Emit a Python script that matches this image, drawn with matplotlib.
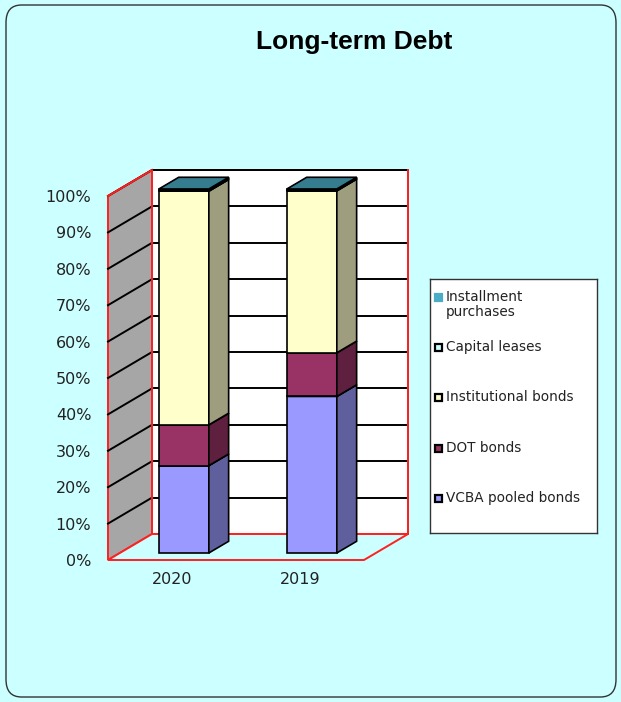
import matplotlib
matplotlib.use("Agg")
from matplotlib import pyplot as plt
from matplotlib.patches import Polygon, Rectangle, FancyBboxPatch
from matplotlib.colors import to_rgb

# data (percent of long-term debt)
years = ["2020", "2019"]
series = ["VCBA pooled bonds", "DOT bonds", "Institutional bonds",
          "Capital leases", "Installment purchases"]
vcba = [24.0, 43.0]
dot = [11.2, 12.0]
institutional = [64.2, 44.5]
capital = [0.4, 0.3]
installment = [0.2, 0.2]
colors = ["#9999FF", "#993366", "#FFFFCC", "#CCFFFF", "#4BACC6"]
ticks = [0, 10, 20, 30, 40, 50, 60, 70, 80, 90, 100]


def shade(c, k):
    r, g, b = to_rgb(c)
    return (r * k, g * k, b * k)


def main():
    fig = plt.figure(figsize=(6.21, 7.02), dpi=100)
    fig.patch.set_facecolor("#CCFFFF")
    W, H = 621, 702
    fig.patches.append(FancyBboxPatch((6 / W, 5 / H), 610 / W, 692 / H,
                                      boxstyle="round,pad=0,rounding_size=0.025",
                                      transform=fig.transFigure, facecolor="#CCFFFF",
                                      edgecolor="#333333", lw=1.0, zorder=-5))

    fig.text(354 / W, 1 - 42 / H, "Long-term Debt", ha="center", va="center",
             fontsize=19, fontweight="bold", family="Liberation Sans")

    # depth of the 3d box in data units
    DX, DY = 0.344, 7.14
    x0, x1 = -0.5, 1.5
    ax = fig.add_axes([108 / W, 1 - 560 / H, 300 / W, 390 / H])
    ax.set_xlim(x0, x1 + DX)
    ax.set_ylim(0, 100 + DY)
    ax.patch.set_visible(False)
    for s in ax.spines.values():
        s.set_visible(False)

    red = "#FF2020"
    # walls and floor
    ax.add_patch(Polygon([(x0 + DX, DY), (x1 + DX, DY), (x1 + DX, 100 + DY), (x0 + DX, 100 + DY)],
                         facecolor="white", edgecolor=red, lw=1.4, clip_on=False, zorder=1))
    ax.add_patch(Polygon([(x0, 0), (x0 + DX, DY), (x0 + DX, 100 + DY), (x0, 100)],
                         facecolor="#A6A6A6", edgecolor=red, lw=1.4, clip_on=False, zorder=1))
    ax.add_patch(Polygon([(x0, 0), (x1, 0), (x1 + DX, DY), (x0 + DX, DY)],
                         facecolor="#CCFFFF", edgecolor=red, lw=1.4, clip_on=False, zorder=1))
    for p in ticks[1:]:
        ax.plot([x0 + DX, x1 + DX], [p + DY, p + DY], color="black", lw=1.4, zorder=2, clip_on=False)
        ax.plot([x0, x0 + DX], [p, p + DY], color="black", lw=1.4, zorder=2, clip_on=False)
    ax.plot([x0, x0 + DX, x0 + DX], [100, 100 + DY, DY], color=red, lw=1.4, zorder=2, clip_on=False)
    ax.plot([x1 + DX, x1 + DX], [DY, 100 + DY], color=red, lw=1.4, zorder=2, clip_on=False)

    # stacked 3d bars
    w = 0.39
    f0, f1 = 0.27, 0.72
    stacks = [vcba, dot, institutional, capital, installment]
    z = 3
    for i in range(len(years)):
        bottom = 0.0
        for vals, c in zip(stacks, colors):
            top = bottom + vals[i]
            xl = i - w / 2 + f0 * DX
            xr = i + w / 2 + f0 * DX
            yb = bottom + f0 * DY
            yt = top + f0 * DY
            ddx = (f1 - f0) * DX
            ddy = (f1 - f0) * DY
            ax.add_patch(Polygon([(xl, yb), (xr, yb), (xr, yt), (xl, yt)],
                                 facecolor=c, edgecolor="black", lw=1.2, zorder=z))
            ax.add_patch(Polygon([(xr, yb), (xr + ddx, yb + ddy), (xr + ddx, yt + ddy), (xr, yt)],
                                 facecolor=shade(c, 0.62), edgecolor="black", lw=1.2, zorder=z))
            ax.add_patch(Polygon([(xl, yt), (xr, yt), (xr + ddx, yt + ddy), (xl + ddx, yt + ddy)],
                                 facecolor=shade(c, 0.72), edgecolor="black", lw=1.2, zorder=z))
            z += 1
            bottom = top

    ax.set_yticks(ticks)
    ax.set_yticklabels([f"{t}%" for t in ticks])
    ax.set_xticks([0, 1])
    ax.set_xticklabels(years)
    ax.tick_params(length=0, labelsize=11.5, labelcolor="#222222")
    ax.tick_params(axis="y", pad=12)
    ax.tick_params(axis="x", pad=9)
    for lab in ax.get_xticklabels() + ax.get_yticklabels():
        lab.set_family("DejaVu Sans")

    # legend box
    lg = fig.add_axes([430 / W, 1 - 533 / H, 167 / W, 254 / H])
    lg.set_xlim(0, 167)
    lg.set_ylim(254, 0)
    lg.set_xticks([])
    lg.set_yticks([])
    lg.patch.set_facecolor("white")
    for s in lg.spines.values():
        s.set_color("#333333")
        s.set_linewidth(1.0)
    rows = [18, 68, 118, 169, 219]
    names = list(reversed(series))
    cols = list(reversed(colors))
    names[0] = "Installment\npurchases"
    for y, name, c in zip(rows, names, cols):
        ec = c if name.startswith("Installment") else "black"
        lg.add_patch(Rectangle((4.5, y - 3.5), 7, 7, facecolor=c, edgecolor=ec, lw=1.6))
        lg.text(16, y - 7, name, ha="left", va="top", fontsize=9.8,
                family="DejaVu Sans", color="#222222", linespacing=1.08)

    fig.savefig("out.png", dpi=100, facecolor=fig.get_facecolor())


if __name__ == '__main__':
    main()
